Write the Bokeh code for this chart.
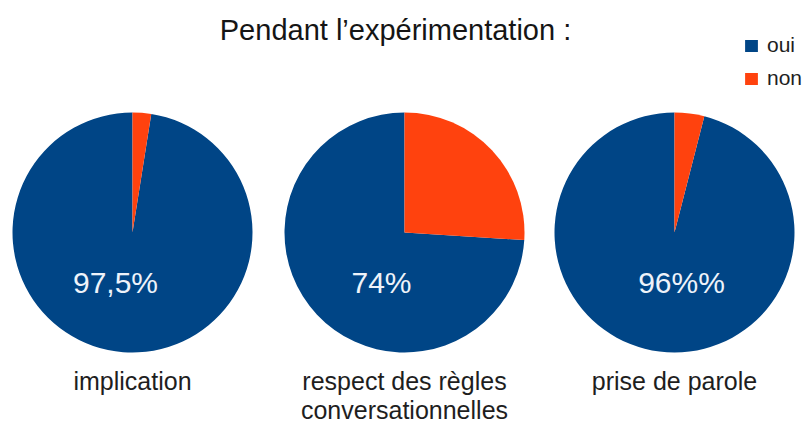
import math
from bokeh.plotting import figure
from bokeh.models import ColumnDataSource, Range1d, Legend, LegendItem
from bokeh.core.properties import value
from bokeh.embed import file_html
from bokeh.resources import INLINE

# ---- data ----
title = "Pendant l\u2019exp\u00e9rimentation :"
categories = ["implication", "respect des r\u00e8gles\nconversationnelles", "prise de parole"]
oui = [97.5, 74, 96]
non = [2.5, 26, 4]
pct_labels = ["97,5%", "74%", "96%%"]
series_names = ["oui", "non"]

# ---- layout / style ----
W, H = 812, 427
BLUE, ORANGE = "#004586", "#ff420e"
FONT = "Liberation Sans"
TXT_SHIFT = 7
def py(page_y):            # page pixel y -> data y
    return H - page_y
def ty(page_y):            # text baseline correction
    return py(page_y - TXT_SHIFT)
centers_x = [132, 404, 674]
center_y = py(232)
R = 120
label_dx = [-17, -23, 7]

p = figure(width=W, height=H, output_backend="svg", toolbar_location=None,
           x_range=Range1d(0, W), y_range=Range1d(0, H),
           min_border=0, outline_line_color=None)
p.axis.visible = False
p.grid.visible = False
p.background_fill_color = "white"
p.border_fill_color = "white"

# wedges: "non" starts at 12 o'clock going clockwise, "oui" fills the rest
top = math.pi / 2
non_src = dict(x=[], y=[], s=[], e=[])
oui_src = dict(x=[], y=[], s=[], e=[])
for cx, o, n in zip(centers_x, oui, non):
    total = o + n
    split = top - 2 * math.pi * n / total
    non_src["x"].append(cx); non_src["y"].append(center_y)
    non_src["s"].append(top); non_src["e"].append(split)
    oui_src["x"].append(cx); oui_src["y"].append(center_y)
    oui_src["s"].append(split); oui_src["e"].append(top - 2 * math.pi + 1e-9)

r_oui = p.wedge(x="x", y="y", radius=R, radius_units="screen", start_angle="s", end_angle="e",
                direction="clock", fill_color=BLUE, line_color=None,
                source=ColumnDataSource(oui_src))
r_non = p.wedge(x="x", y="y", radius=R, radius_units="screen", start_angle="s", end_angle="e",
                direction="clock", fill_color=ORANGE, line_color=None,
                source=ColumnDataSource(non_src))

# percentage labels
p.text(x=[cx + dx for cx, dx in zip(centers_x, label_dx)], y=[ty(289)] * 3, text=pct_labels,
       text_font=value(FONT), text_font_size="30px", text_color="#eef3fa",
       text_align="center", text_baseline="alphabetic")

# category labels (split into lines)
lx, ly, lt = [], [], []
for cx, cat in zip(centers_x, categories):
    for i, line in enumerate(cat.split("\n")):
        lx.append(cx); ly.append(ty(387 + 29 * i)); lt.append(line)
p.text(x=lx, y=ly, text=lt, text_font=value(FONT), text_font_size="25px",
       text_color="#1e1e1e", text_align="center", text_baseline="alphabetic")

# title
p.text(x=[395], y=[ty(36)], text=[title], text_font=value(FONT), text_font_size="29px",
       text_color="#151515", text_align="center", text_baseline="alphabetic")

# legend
legend = Legend(items=[LegendItem(label=series_names[0], renderers=[r_oui]),
                       LegendItem(label=series_names[1], renderers=[r_non])],
                location=(743, H - 42 - 48))
legend.glyph_width = 16
legend.glyph_height = 15
legend.label_standoff = 8
legend.label_text_font = FONT
legend.label_text_font_size = "21px"
legend.label_text_color = "#1e1e1e"
legend.label_height = 15
legend.spacing = 9
legend.padding = 0
legend.margin = 0
legend.border_line_color = None
legend.background_fill_alpha = 0
p.add_layout(legend)

open("out.html", "w").write(file_html(p, INLINE))
